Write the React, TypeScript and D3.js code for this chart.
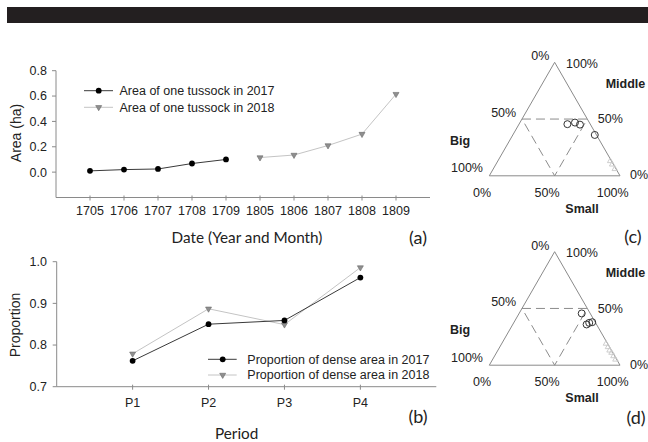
import React from "react";
import * as d3 from "d3";

// ---------- data ----------
const dates2017 = ["1705", "1706", "1707", "1708", "1709"];
const area2017 = [0.01, 0.02, 0.025, 0.068, 0.1];
const dates2018 = ["1805", "1806", "1807", "1808", "1809"];
const area2018 = [0.115, 0.135, 0.21, 0.3, 0.615];
const allDates = [...dates2017, ...dates2018];
const areaTicks = [0.0, 0.2, 0.4, 0.6, 0.8];

const periods = ["P1", "P2", "P3", "P4"];
const prop2017 = [0.762, 0.85, 0.859, 0.962];
const prop2018 = [0.779, 0.887, 0.849, 0.986];
const propTicks = [0.7, 0.8, 0.9, 1.0];

// ternary points: [big, middle, small]
const ternCcircles: [number, number, number][] = [
  [0.175, 0.455, 0.37],
  [0.11, 0.469, 0.421],
  [0.081, 0.451, 0.468],
  [0.013, 0.36, 0.627],
];
const ternCtriangles: [number, number, number][] = [
  [0.01, 0.13, 0.86],
  [0.01, 0.1, 0.89],
  [0.01, 0.06, 0.93],
];
const ternDcircles: [number, number, number][] = [
  [0.065, 0.456, 0.479],
  [0.076, 0.359, 0.565],
  [0.049, 0.373, 0.578],
  [0.023, 0.379, 0.598],
];
const ternDtriangles: [number, number, number][] = [
  [0.012, 0.19, 0.798],
  [0.012, 0.16, 0.828],
  [0.015, 0.13, 0.855],
  [0.01, 0.11, 0.88],
  [0.01, 0.08, 0.91],
  [0.01, 0.05, 0.94],
];

const ARIAL = "'Liberation Sans', Arial, sans-serif";
const CALIBRI = "Lato, 'Open Sans', sans-serif";
const AXIS = "#8a8a8a";
const TXT = "#222";
const DARK = "#3a3a3a";
const LIGHT = "#c4c4c4";
const TRI_FILL = "#8f8f8f";
const TRI_STROKE = "#6a6a6a";

function downTri(cx: number, cy: number, s = 6) {
  const h = (s * Math.sqrt(3)) / 2;
  return `M${cx - s / 2},${cy - h / 3}L${cx + s / 2},${cy - h / 3}L${cx},${cy + (2 * h) / 3}Z`;
}
function upTri(cx: number, cy: number, s = 6) {
  const h = (s * Math.sqrt(3)) / 2;
  return `M${cx - s / 2},${cy + h / 3}L${cx + s / 2},${cy + h / 3}L${cx},${cy - (2 * h) / 3}Z`;
}

function PanelA() {
  const x = d3.scalePoint<string>().domain(allDates).range([56, 430]).padding(1);
  const y = d3.scaleLinear().domain([-0.2, 0.8]).range([197.5, 70.7]);
  const line = d3.line<[string, number]>().x((d) => x(d[0])!).y((d) => y(d[1]));
  const d17 = dates2017.map((k, i) => [k, area2017[i]] as [string, number]);
  const d18 = dates2018.map((k, i) => [k, area2018[i]] as [string, number]);
  return (
    <g>
      <line x1={56} x2={56} y1={y(-0.2)} y2={y(0.8)} stroke={AXIS} />
      <line x1={56} x2={430} y1={y(-0.2)} y2={y(-0.2)} stroke={AXIS} />
      {areaTicks.map((t) => (
        <g key={t}>
          <line x1={52} x2={56} y1={y(t)} y2={y(t)} stroke={AXIS} />
          <text x={47} y={y(t)} dy="0.35em" textAnchor="end" fontFamily={ARIAL} fontSize={12.5} fill={TXT}>
            {t.toFixed(1)}
          </text>
        </g>
      ))}
      {allDates.map((k) => (
        <g key={k}>
          <line x1={x(k)} x2={x(k)} y1={y(-0.2) - 2} y2={y(-0.2) + 3} stroke={AXIS} />
          <text x={x(k)} y={210.7} dy="0.35em" textAnchor="middle" fontFamily={ARIAL} fontSize={12.5} fill={TXT}>
            {k}
          </text>
        </g>
      ))}
      <path d={line(d17)!} fill="none" stroke={DARK} strokeWidth={1} />
      <path d={line(d18)!} fill="none" stroke={LIGHT} strokeWidth={1} />
      {d17.map((d) => (
        <circle key={d[0]} cx={x(d[0])} cy={y(d[1])} r={2.9} fill="#000" />
      ))}
      {d18.map((d) => (
        <path key={d[0]} d={downTri(x(d[0])!, y(d[1]))} fill={TRI_FILL} stroke={TRI_STROKE} strokeWidth={0.6} />
      ))}
      {/* legend */}
      <line x1={84} x2={113} y1={90.7} y2={90.7} stroke={DARK} />
      <circle cx={98.7} cy={90.7} r={2.9} fill="#000" />
      <text x={119.5} y={90.7} dy="0.35em" fontFamily={ARIAL} fontSize={12.5} fill={TXT}>
        Area of one tussock in 2017
      </text>
      <line x1={84} x2={113} y1={107.3} y2={107.3} stroke={LIGHT} />
      <path d={downTri(98.7, 107.3)} fill={TRI_FILL} stroke={TRI_STROKE} strokeWidth={0.6} />
      <text x={119.5} y={107.3} dy="0.35em" fontFamily={ARIAL} fontSize={12.5} fill={TXT}>
        Area of one tussock in 2018
      </text>
      <text transform="translate(16,133) rotate(-90)" textAnchor="middle" dy="0.35em" fontFamily={ARIAL} fontSize={14} fill={TXT}>
        Area (ha)
      </text>
      <text x={247} y={238} dy="0.35em" textAnchor="middle" fontFamily={CALIBRI} fontSize={15.3} fill={TXT}>
        Date (Year and Month)
      </text>
      <text x={418} y={238} dy="0.35em" textAnchor="middle" fontFamily={CALIBRI} fontSize={18} fill={TXT}>
        (a)
      </text>
    </g>
  );
}

function PanelB() {
  const x = d3.scalePoint<string>().domain(periods).range([56.7, 436.3]).padding(1);
  const y = d3.scaleLinear().domain([0.7, 1.0]).range([386.7, 261.7]);
  const line = d3.line<[string, number]>().x((d) => x(d[0])!).y((d) => y(d[1]));
  const d17 = periods.map((k, i) => [k, prop2017[i]] as [string, number]);
  const d18 = periods.map((k, i) => [k, prop2018[i]] as [string, number]);
  return (
    <g>
      <line x1={56.7} x2={56.7} y1={y(0.7)} y2={y(1.0)} stroke={AXIS} />
      <line x1={56.7} x2={436.3} y1={y(0.7)} y2={y(0.7)} stroke={AXIS} />
      {propTicks.map((t) => (
        <g key={t}>
          <line x1={52.7} x2={56.7} y1={y(t)} y2={y(t)} stroke={AXIS} />
          <text x={47} y={y(t)} dy="0.35em" textAnchor="end" fontFamily={ARIAL} fontSize={12.5} fill={TXT}>
            {t.toFixed(1)}
          </text>
        </g>
      ))}
      {periods.map((k) => (
        <g key={k}>
          <line x1={x(k)} x2={x(k)} y1={y(0.7) - 2} y2={y(0.7) + 3} stroke={AXIS} />
          <text x={x(k)} y={402.7} dy="0.35em" textAnchor="middle" fontFamily={ARIAL} fontSize={12.5} fill={TXT}>
            {k}
          </text>
        </g>
      ))}
      <path d={line(d18)!} fill="none" stroke={LIGHT} strokeWidth={1} />
      <path d={line(d17)!} fill="none" stroke={DARK} strokeWidth={1} />
      {d18.map((d) => (
        <path key={d[0]} d={downTri(x(d[0])!, y(d[1]))} fill={TRI_FILL} stroke={TRI_STROKE} strokeWidth={0.6} />
      ))}
      {d17.map((d) => (
        <circle key={d[0]} cx={x(d[0])} cy={y(d[1])} r={2.9} fill="#000" />
      ))}
      {/* legend */}
      <line x1={208} x2={236.7} y1={359.3} y2={359.3} stroke={DARK} />
      <circle cx={222.7} cy={359.3} r={2.9} fill="#000" />
      <text x={247.3} y={359.3} dy="0.35em" fontFamily={ARIAL} fontSize={12.5} fill={TXT}>
        Proportion of dense area in 2017
      </text>
      <line x1={208} x2={236.7} y1={375} y2={375} stroke={LIGHT} />
      <path d={downTri(222.7, 375)} fill={TRI_FILL} stroke={TRI_STROKE} strokeWidth={0.6} />
      <text x={247.3} y={375} dy="0.35em" fontFamily={ARIAL} fontSize={12.5} fill={TXT}>
        Proportion of dense area in 2018
      </text>
      <text transform="translate(15,325) rotate(-90)" textAnchor="middle" dy="0.35em" fontFamily={ARIAL} fontSize={14} fill={TXT}>
        Proportion
      </text>
      <text x={236.7} y={434} dy="0.35em" textAnchor="middle" fontFamily={CALIBRI} fontSize={15.3} fill={TXT}>
        Period
      </text>
      <text x={418} y={416.7} dy="0.35em" textAnchor="middle" fontFamily={CALIBRI} fontSize={18} fill={TXT}>
        (b)
      </text>
    </g>
  );
}

function Ternary({
  top,
  circles,
  triangles,
  label,
  labelX,
  labelY,
}: {
  top: number;
  circles: [number, number, number][];
  triangles: [number, number, number][];
  label: string;
  labelX: number;
  labelY: number;
}) {
  const left = 489.3;
  const right = 620;
  const bottom = top + 113.5;
  const xs = d3.scaleLinear().domain([0, 1]).range([left, right]);
  const ys = d3.scaleLinear().domain([0, 1]).range([bottom, top]);
  const pt = (p: [number, number, number]) => {
    const [b, m, s] = p;
    const tot = b + m + s;
    return [xs(s / tot + m / tot / 2), ys(m / tot)];
  };
  const A = pt([0, 1, 0]);
  const BL = pt([1, 0, 0]);
  const BR = pt([0, 0, 1]);
  const mL = pt([0.5, 0.5, 0]);
  const mR = pt([0, 0.5, 0.5]);
  const mB = pt([0.5, 0, 0.5]);
  const fs = 12.5;
  return (
    <g>
      <path d={`M${A[0]},${A[1]}L${BR[0]},${BR[1]}L${BL[0]},${BL[1]}Z`} fill="none" stroke={AXIS} strokeWidth={1} />
      <path
        d={`M${mL[0]},${mL[1]}L${mR[0]},${mR[1]}L${mB[0]},${mB[1]}Z`}
        fill="none"
        stroke="#8c8c8c"
        strokeWidth={1}
        strokeDasharray="9,5"
      />
      {triangles.map((p, i) => {
        const [cx, cy] = pt(p);
        return <path key={"t" + i} d={upTri(cx, cy, 5.5)} fill="none" stroke="#c8c8c8" strokeWidth={0.9} />;
      })}
      {circles.map((p, i) => {
        const [cx, cy] = pt(p);
        return <circle key={"c" + i} cx={cx} cy={cy} r={3.5} fill="none" stroke="#333" strokeWidth={1} />;
      })}
      <g fontFamily={ARIAL} fontSize={fs} fill={TXT}>
        <text x={540.3} y={top - 6.4} dy="0.35em" textAnchor="middle">0%</text>
        <text x={582} y={top + 1} dy="0.35em" textAnchor="middle">100%</text>
        <text x={605.7} y={top + 21} dy="0.35em" fontWeight="bold">Middle</text>
        <text x={503.7} y={top + 50} dy="0.35em" textAnchor="middle">50%</text>
        <text x={610.3} y={top + 56.6} dy="0.35em" textAnchor="middle">50%</text>
        <text x={450} y={top + 78} dy="0.35em" fontWeight="bold">Big</text>
        <text x={467} y={top + 105.6} dy="0.35em" textAnchor="middle">100%</text>
        <text x={630} y={top + 112.6} dy="0.35em">0%</text>
        <text x={482} y={top + 130} dy="0.35em" textAnchor="middle">0%</text>
        <text x={547} y={top + 130} dy="0.35em" textAnchor="middle">50%</text>
        <text x={612.7} y={top + 130} dy="0.35em" textAnchor="middle">100%</text>
        <text x={582} y={top + 146} dy="0.35em" textAnchor="middle" fontWeight="bold">Small</text>
      </g>
      <text x={labelX} y={labelY} dy="0.35em" textAnchor="middle" fontFamily={CALIBRI} fontSize={18} fill={TXT}>
        {label}
      </text>
    </g>
  );
}

export default function App() {
  return (
    <svg
      width={648}
      height={442}
      style={{ position: "absolute", left: 0, top: 0, background: "#fff" }}
    >
      <rect x={0} y={0} width={648} height={442} fill="#fff" />
      <rect x={7} y={7} width={641} height={16} fill="#231f20" />
      <PanelA />
      <PanelB />
      <Ternary top={62.3} circles={ternCcircles} triangles={ternCtriangles} label="(c)" labelX={633} labelY={237} />
      <Ternary top={251.7} circles={ternDcircles} triangles={ternDtriangles} label="(d)" labelX={636} labelY={418} />
    </svg>
  );
}
